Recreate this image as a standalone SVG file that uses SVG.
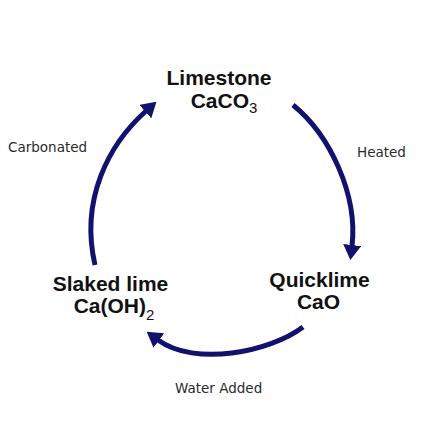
<svg xmlns="http://www.w3.org/2000/svg" width="440" height="440" viewBox="0 0 440 440">
<style>
.node{font-family:"Liberation Sans",Arial,sans-serif;font-weight:bold;font-size:21px;fill:#111;text-anchor:middle}
.sub{font-size:15px;font-weight:normal}
.lbl{font-family:"DejaVu Sans",Verdana,sans-serif;font-size:13.5px;fill:#2a2a2a}
.arc{fill:none;stroke:#11116e;stroke-width:5;stroke-linecap:butt}
</style>
<defs>
<marker id="ah" markerUnits="userSpaceOnUse" viewBox="0 -9 15 18" markerWidth="15" markerHeight="18" refX="1" refY="0" orient="auto">
<path d="M0,-9 L15,0 L0,9 z" fill="#11116e"/>
</marker>
</defs>
<rect width="440" height="440" fill="#fff"/>
<g id="connectors">
<path class="arc" d="M293,105 C330,135 358,195 352,246" marker-end="url(#ah)"/>
<path class="arc" d="M303,327 C270,352 195,367 158,340" marker-end="url(#ah)"/>
<path class="arc" d="M95,265 C80,200 108,145 146,111" marker-end="url(#ah)"/>
<text class="lbl" x="357" y="157">Heated</text>
<text class="lbl" x="175" y="393">Water Added</text>
<text class="lbl" x="8" y="151.5">Carbonated</text>
</g>
<g id="limestone">
<text class="node" x="219" y="85">Limestone</text>
<text class="node" x="224" y="107.5">CaCO<tspan class="sub" dy="5">3</tspan></text>
</g>
<g id="quicklime">
<text class="node" x="319.5" y="287">Quicklime</text>
<text class="node" x="318.5" y="309">CaO</text>
</g>
<g id="slakedlime">
<text class="node" x="110.5" y="291">Slaked lime</text>
<text class="node" x="114" y="313">Ca(OH)<tspan class="sub" dy="7">2</tspan></text>
</g>
</svg>
